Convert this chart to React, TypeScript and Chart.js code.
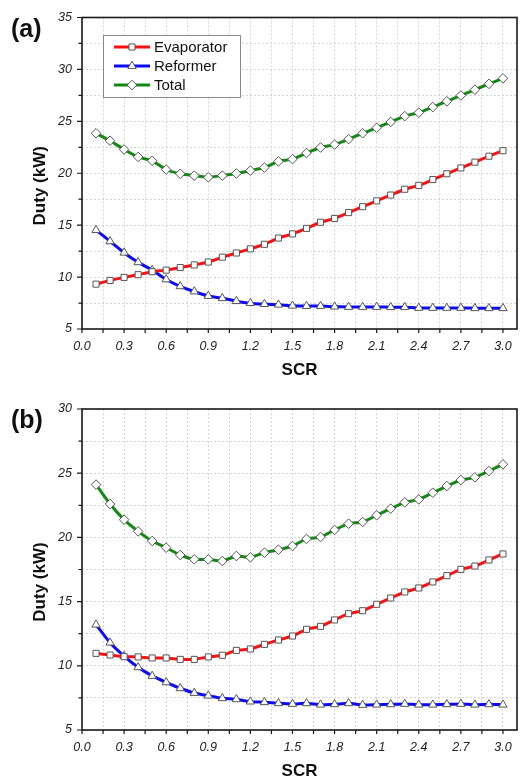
import React, { useEffect, useRef } from 'react';
import { Chart, registerables } from 'chart.js';

Chart.register(...registerables);

const FONT = "'Liberation Sans', Arial, Helvetica, sans-serif";

const scr = [0.1, 0.2, 0.3, 0.4, 0.5, 0.6, 0.7, 0.8, 0.9, 1.0, 1.1, 1.2, 1.3, 1.4, 1.5, 1.6, 1.7, 1.8, 1.9, 2.0, 2.1, 2.2, 2.3, 2.4, 2.5, 2.6, 2.7, 2.8, 2.9, 3.0];

// Panel (a)
const evapA = [9.32, 9.68, 9.97, 10.23, 10.52, 10.67, 10.92, 11.17, 11.45, 11.92, 12.32, 12.72, 13.16, 13.76, 14.16, 14.69, 15.28, 15.65, 16.21, 16.78, 17.34, 17.9, 18.46, 18.83, 19.39, 19.95, 20.51, 21.07, 21.64, 22.17];
const reformA = [14.53, 13.44, 12.35, 11.42, 10.67, 9.77, 9.11, 8.61, 8.18, 7.96, 7.68, 7.49, 7.4, 7.34, 7.24, 7.21, 7.21, 7.15, 7.12, 7.12, 7.12, 7.1, 7.1, 7.03, 7.03, 7.03, 7.03, 7.0, 7.0, 7.0];
const totalA = [23.85, 23.13, 22.29, 21.57, 21.2, 20.36, 19.95, 19.77, 19.61, 19.77, 19.98, 20.26, 20.55, 21.14, 21.36, 21.95, 22.48, 22.76, 23.29, 23.85, 24.38, 24.94, 25.5, 25.84, 26.37, 26.93, 27.49, 28.05, 28.61, 29.14];

// Panel (b)
const evapB = [10.97, 10.84, 10.71, 10.69, 10.61, 10.61, 10.5, 10.5, 10.69, 10.82, 11.2, 11.31, 11.67, 12.01, 12.32, 12.84, 13.07, 13.57, 14.06, 14.29, 14.79, 15.28, 15.75, 16.06, 16.53, 17.02, 17.51, 17.77, 18.24, 18.71];
const reformB = [13.2, 11.8, 10.76, 9.88, 9.21, 8.71, 8.25, 7.88, 7.67, 7.47, 7.39, 7.21, 7.16, 7.08, 7.03, 7.08, 6.97, 7.0, 7.08, 6.95, 6.97, 7.0, 7.03, 6.97, 6.97, 7.0, 7.03, 6.97, 7.0, 6.97];
const totalB = [24.11, 22.6, 21.38, 20.47, 19.72, 19.2, 18.63, 18.29, 18.29, 18.16, 18.55, 18.45, 18.81, 19.04, 19.33, 19.88, 20.03, 20.58, 21.07, 21.2, 21.72, 22.24, 22.73, 22.96, 23.48, 24.0, 24.47, 24.68, 25.17, 25.69];

const seriesNames = ['Evaporator', 'Reformer', 'Total'];
const seriesColors = ['#ff1010', '#0a0aff', '#108a10'];
const seriesMarkers = ['rect', 'triangle', 'rectRot'];
const markerRadii = [4.3, 4.8, 4.8];

const xMin = 0;
const xMax = 3.1;
const xStep = 0.15; // minor step; labels every 0.3
const yStep = 2.5; // minor step; labels every 5

const W = 529;
const H = 390;

function drawMarker(ctx: CanvasRenderingContext2D, style: string, x: number, y: number, r: number) {
  ctx.beginPath();
  if (style === 'rect') {
    const s = r / Math.SQRT2;
    ctx.rect(x - s, y - s, 2 * s, 2 * s);
  } else if (style === 'triangle') {
    ctx.moveTo(x, y - r);
    ctx.lineTo(x + r * 0.866, y + r * 0.5);
    ctx.lineTo(x - r * 0.866, y + r * 0.5);
    ctx.closePath();
  } else {
    ctx.moveTo(x, y - r);
    ctx.lineTo(x + r, y);
    ctx.lineTo(x, y + r);
    ctx.lineTo(x - r, y);
    ctx.closePath();
  }
  ctx.fillStyle = '#ffffff';
  ctx.fill();
  ctx.strokeStyle = '#555555';
  ctx.lineWidth = 1;
  ctx.stroke();
}

type PanelProps = {
  tag: string;
  series: number[][];
  yMin: number;
  yMax: number;
  padTop: number;
  xAxisH: number;
  showLegend: boolean;
};

function Panel({ tag, series, yMin, yMax, padTop, xAxisH, showLegend }: PanelProps) {
  const canvasRef = useRef<HTMLCanvasElement>(null);

  useEffect(() => {
    const canvas = canvasRef.current;
    if (!canvas) return;

    const decor = {
      id: 'decor',
      afterDraw(chart: any) {
        const ctx: CanvasRenderingContext2D = chart.ctx;
        const a = chart.chartArea;
        const xs = chart.scales.x;
        const ys = chart.scales.y;
        ctx.save();
        // frame
        ctx.strokeStyle = '#1a1a1a';
        ctx.lineWidth = 1.6;
        ctx.strokeRect(a.left, a.top, a.right - a.left, a.bottom - a.top);
        // ticks
        ctx.lineWidth = 1.2;
        ctx.beginPath();
        xs.ticks.forEach((t: any, i: number) => {
          const px = xs.getPixelForValue(t.value);
          const len = 4;
          ctx.moveTo(px, a.bottom);
          ctx.lineTo(px, a.bottom + len);
        });
        ys.ticks.forEach((t: any, i: number) => {
          const py = ys.getPixelForValue(t.value);
          const len = i % 2 === 0 ? 5 : 3.5;
          ctx.moveTo(a.left, py);
          ctx.lineTo(a.left - len, py);
        });
        ctx.stroke();
        // axis titles
        ctx.fillStyle = '#111111';
        ctx.font = `bold 17px ${FONT}`;
        ctx.textAlign = 'center';
        ctx.textBaseline = 'middle';
        ctx.fillText('SCR', (a.left + a.right) / 2, a.bottom + 41);
        ctx.save();
        ctx.translate(40.5, (a.top + a.bottom) / 2 + 12.5);
        ctx.rotate(-Math.PI / 2);
        ctx.fillText('Duty (kW)', 0, 0);
        ctx.restore();
        // panel tag
        ctx.font = `bold 25px ${FONT}`;
        ctx.textAlign = 'left';
        ctx.fillText(tag, 11, a.top + 12.5);
        // legend
        if (showLegend) {
          const bx = 103, by = 35, bw = 137, bh = 62;
          ctx.fillStyle = '#ffffff';
          ctx.fillRect(bx, by, bw, bh);
          ctx.strokeStyle = '#8a8a8a';
          ctx.lineWidth = 1;
          ctx.strokeRect(bx + 0.5, by + 0.5, bw, bh);
          seriesNames.forEach((name, i) => {
            const ry = 47 + i * 19;
            ctx.strokeStyle = seriesColors[i];
            ctx.lineWidth = 3;
            ctx.beginPath();
            ctx.moveTo(114, ry);
            ctx.lineTo(150, ry);
            ctx.stroke();
            drawMarker(ctx, seriesMarkers[i], 132, ry, markerRadii[i]);
            ctx.fillStyle = '#111111';
            ctx.font = `15px ${FONT}`;
            ctx.textAlign = 'left';
            ctx.textBaseline = 'middle';
            ctx.fillText(name, 154, ry + 1);
          });
        }
        ctx.restore();
      },
    };

    const lineSets = series.map((vals, i) => ({
      label: seriesNames[i],
      data: scr.map((x, j) => ({ x, y: vals[j] })),
      borderColor: seriesColors[i],
      backgroundColor: seriesColors[i],
      borderWidth: 3,
      pointRadius: 0,
      tension: 0.2,
      order: 2,
    }));
    const markerSets = series.map((vals, i) => ({
      label: seriesNames[i] + ' markers',
      data: scr.map((x, j) => ({ x, y: vals[j] })),
      showLine: false,
      pointStyle: seriesMarkers[i],
      pointRadius: markerRadii[i],
      pointBackgroundColor: '#ffffff',
      pointBorderColor: '#555555',
      pointBorderWidth: 1,
      order: 1,
    }));

    const tickFont = { family: FONT, size: 12.5, style: 'italic' as const };

    const chart = new Chart(canvas, {
      type: 'line',
      data: { datasets: [...lineSets, ...markerSets] as any },
      options: {
        responsive: false,
        animation: false,
        devicePixelRatio: 1,
        layout: { padding: { left: 0, right: 12, top: padTop, bottom: 0 } },
        plugins: {
          legend: { display: false },
          tooltip: { enabled: false },
          title: { display: false },
        },
        scales: {
          x: {
            type: 'linear',
            min: xMin,
            max: xMax,
            afterBuildTicks: (s: any) => {
              const t = [];
              for (let i = 0; i * xStep <= 3.0 + 1e-9; i++) t.push({ value: +(i * xStep).toFixed(2) });
              s.ticks = t;
            },
            afterFit: (s: any) => {
              s.height = xAxisH;
            },
            ticks: {
              autoSkip: false,
              maxRotation: 0,
              padding: 10,
              color: '#222222',
              font: tickFont,
              callback: (v: any, i: number) => (i % 2 === 0 ? Number(v).toFixed(1) : ''),
            },
            grid: { color: '#d6d6d6', lineWidth: 1, drawTicks: false },
            border: { display: false, dash: [2, 2] },
          },
          y: {
            type: 'linear',
            min: yMin,
            max: yMax,
            afterBuildTicks: (s: any) => {
              const t = [];
              for (let v = yMin; v <= yMax + 1e-9; v += yStep) t.push({ value: v });
              s.ticks = t;
            },
            afterFit: (s: any) => {
              s.width = 82;
            },
            ticks: {
              autoSkip: false,
              padding: 10,
              color: '#222222',
              font: tickFont,
              callback: (v: any) => (Number(v) % 5 === 0 ? String(v) : ''),
            },
            grid: { color: '#d6d6d6', lineWidth: 1, drawTicks: false },
            border: { display: false, dash: [2, 2] },
          },
        },
      } as any,
      plugins: [decor],
    });

    return () => chart.destroy();
  }, []);

  return <canvas ref={canvasRef} width={W} height={H} style={{ display: 'block', width: W, height: H }} />;
}

export default function App() {
  return (
    <div style={{ position: 'absolute', left: 0, top: 0, width: W, height: 780, background: '#ffffff' }}>
      <Panel tag="(a)" series={[evapA, reformA, totalA]} yMin={5} yMax={35} padTop={8} xAxisH={61} showLegend={true} />
      <Panel tag="(b)" series={[evapB, reformB, totalB]} yMin={5} yMax={30} padTop={19} xAxisH={50} showLegend={false} />
    </div>
  );
}
